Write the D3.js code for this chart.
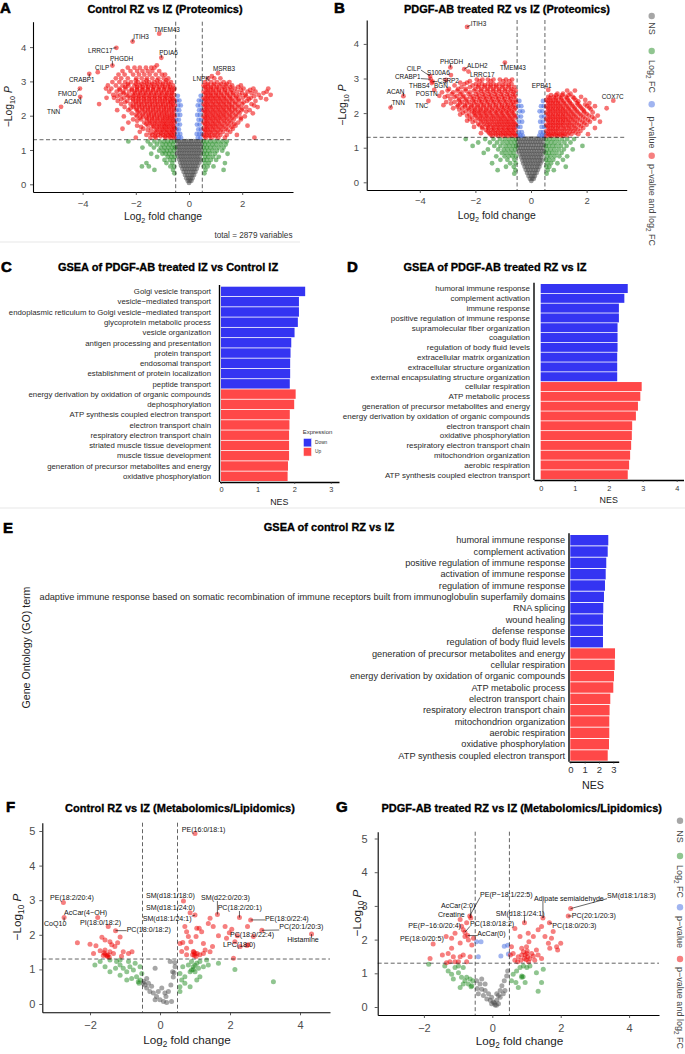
<!DOCTYPE html>
<html>
<head>
<meta charset="utf-8">
<script src="https://cdn.jsdelivr.net/npm/d3@7"></script>
<style>
  body { margin: 0; background: #fff; }
  svg { display: block; font-family: "Liberation Sans", Arial, Helvetica, sans-serif; }
  .letter { font-weight: bold; font-size: 15px; fill: #000; stroke: #000; stroke-width: 0.6px; }
  .ptitle { font-weight: bold; font-size: 11px; fill: #000; stroke: #000; stroke-width: 0.3px; }
  .vol .domain { stroke: #000; stroke-width: 1.1px; }
  .vol .tick line { stroke: #333; stroke-width: 0.8px; }
  .vol .tick text { fill: #4d4d4d; }
  .gs .domain { stroke: #000; stroke-width: 1.4px; }
  .gs .tick line { stroke: #333; stroke-width: 0.7px; }
  .gs .tick text { fill: #333; }
  .vlab { fill: #111; }
</style>
</head>
<body>
<svg id="fig" width="685" height="1054"></svg>
<script>
// ---------- data ----------
// volcano clouds A/B: each row = [-log10 P, log2 FC values...]
const aNS = [
  [1.26, -0.46, -0.37, -0.28, -0.19, -0.1, -0.01, 0.08, 0.17, 0.26, 0.35, 0.44],
  [1.17, -0.42, -0.33, -0.24, -0.15, -0.06, 0.03, 0.12, 0.21, 0.3, 0.39, 0.48],
  [1.08, -0.47, -0.38, -0.29, -0.2, -0.11, -0.02, 0.07, 0.16, 0.25, 0.34, 0.43],
  [0.99, -0.43, -0.34, -0.25, -0.16, -0.07, 0.02, 0.11, 0.2, 0.29, 0.38, 0.47],
  [0.9, -0.45, -0.36, -0.27, -0.18, -0.09, 0, 0.09, 0.18, 0.27, 0.36, 0.45],
  [0.81, -0.41, -0.32, -0.23, -0.14, -0.05, 0.04, 0.13, 0.22, 0.31, 0.4],
  [0.72, -0.37, -0.28, -0.19, -0.1, -0.01, 0.08, 0.17, 0.26, 0.35, 0.44],
  [0.63, -0.33, -0.24, -0.15, -0.06, 0.03, 0.12, 0.21, 0.3, 0.39],
  [0.54, -0.3, -0.21, -0.12, -0.03, 0.06, 0.15, 0.24, 0.33],
  [0.45, -0.25, -0.16, -0.07, 0.02, 0.11, 0.2, 0.29],
  [0.36, -0.2, -0.11, -0.02, 0.07, 0.16, 0.24],
  [0.27, -0.15, -0.06, 0.03, 0.12, 0.19],
  [0.18, -0.1, -0.02, 0.06, 0.13],
  [0.1, -0.05, 0.03, 0.09],
  [0.04, 0]
];
const aFC = [
  [1.25, -2.28, -1.55, -1.3, -1.1, -0.94, -0.8, -0.67, -0.55, 0.54, 0.66, 0.8, 0.95, 1.1, 1.26, 1.42],
  [1.16, -1.45, -1.2, -1.0, -0.86, -0.73, -0.6, 0.6, 0.73, 0.88, 1.03, 1.2, 1.38],
  [1.07, -1.75, -1.32, -1.06, -0.92, -0.78, -0.64, -0.53, 0.55, 0.67, 0.8, 0.95, 1.12, 1.3],
  [0.98, -1.12, -0.96, -0.83, -0.7, -0.57, 0.6, 0.73, 0.88, 1.05, 1.25],
  [0.89, -1.42, -1.0, -0.88, -0.75, -0.62, 0.55, 0.67, 0.8, 0.98, 1.45],
  [0.8, -1.2, -0.8, -0.66, -0.54, 0.6, 0.73, 0.9, 1.12],
  [0.71, -0.92, -0.72, -0.58, 0.55, 0.67, 0.82, 1.02],
  [0.62, -1.6, -0.85, -0.63, 0.6, 0.75, 1.35],
  [0.52, -1.77, -1.51, -0.7, -0.56, 0.56, 0.7, 0.92],
  [0.42, -1.3, -0.6, 0.62, 1.3],
  [0.32, -0.55, 0.58]
];
const aP = [
  [2.58, -0.42, 0.44], [2.44, -0.46, -0.36, 0.37, 0.47], [2.3, -0.41, -0.31, 0.33, 0.43],
  [2.16, -0.47, -0.37, 0.38, 0.48], [2.02, -0.43, -0.33, 0.31, 0.41], [1.88, -0.48, -0.38, 0.36, 0.46],
  [1.74, -0.44, -0.34, 0.3, 0.4], [1.6, -0.47, -0.38, 0.35, 0.45], [1.47, -0.43, -0.33, 0.29, 0.39, 0.48],
  [1.36, -0.47, -0.38, -0.3, 0.33, 0.43]
];
const aPFC = [
  [3.47, -1.21],
  [3.4, -2.3, -2.05, -1.85, -1.62, -1.42, -1.3],
  [3.3, -2.5, -2.2, -1.95, -1.75, -1.55, -1.38, -1.12],
  [3.2, -2.65, -2.42, -2.1, -1.88, -1.68, -1.48, -1.25, -1.02, -0.9],
  [3.09, -2.75, -2.55, -2.3, -1.98, -1.78, -1.58, -1.38, -1.15, -0.95, -0.78, 0.72, 0.95, 1.18],
  [3.03, -2.0, -1.6, -1.2, -0.85],
  [2.98, -2.88, -2.62, -2.4, -2.18, -1.92, -1.7, -1.5, -1.3, -1.08, -0.88, -0.68, 0.6, 0.83, 1.05, 1.3, 1.52],
  [2.93, -2.3, -2.0, -1.78, -1.58, -1.38, -1.18, -0.98, -0.76, 0.7, 0.95, 1.2, 1.42],
  [2.88, -3.05, -2.75, -2.5, -2.28, -2.05, -1.85, -1.63, -1.42, -1.22, -1.0, -0.8, -0.6, 0.55, 0.72, 0.92, 1.14, 1.38, 1.62, 1.95],
  [2.84, -2.4, -1.95, -1.74, -1.53, -1.32, -1.1, -0.9, -0.7, 0.6, 0.82, 1.05, 1.3, 1.55, 1.85],
  [2.79, -3.12, -2.92, -2.62, -2.38, -2.15, -1.95, -1.75, -1.55, -1.35, -1.14, -0.93, -0.72, -0.55, 0.64, 0.82, 1.02, 1.24, 1.46, 1.72, 2.05, 2.42, 2.98],
  [2.75, -2.6, -2.15, -1.95, -1.75, -1.55, -1.35, -1.15, -0.95, -0.75, -0.57, 0.7, 0.9, 1.12, 1.35, 1.6, 1.95, 2.3],
  [2.7, -3.0, -2.72, -2.48, -2.25, -2.05, -1.85, -1.65, -1.45, -1.25, -1.05, -0.85, -0.65, 0.55, 0.73, 0.92, 1.12, 1.34, 1.56, 1.8, 2.2, 2.5, 2.92],
  [2.66, -2.45, -2.02, -1.82, -1.62, -1.42, -1.22, -1.02, -0.82, -0.64, 0.62, 0.8, 1.0, 1.2, 1.42, 1.66, 2.0, 2.35, 2.8],
  [2.61, -2.85, -2.58, -2.35, -2.12, -1.92, -1.72, -1.52, -1.32, -1.12, -0.92, -0.74, -0.56, 0.63, 0.82, 1.02, 1.22, 1.44, 1.66, 1.9, 2.12, 2.62, 3.07],
  [2.57, -2.7, -2.28, -2.08, -1.88, -1.68, -1.48, -1.28, -1.08, -0.88, -0.68, 0.7, 0.88, 1.08, 1.3, 1.52, 1.78, 2.15, 2.45],
  [2.52, -3.1, -2.82, -2.45, -2.22, -2.0, -1.8, -1.6, -1.4, -1.2, -1.0, -0.82, -0.63, 0.55, 0.72, 0.92, 1.12, 1.32, 1.54, 1.76, 2.02, 2.32, 2.7],
  [2.48, -2.55, -2.1, -1.9, -1.7, -1.5, -1.3, -1.1, -0.9, -0.72, -0.58, 0.6, 0.78, 0.97, 1.17, 1.38, 1.6, 1.86, 2.25, 2.9],
  [2.43, -2.68, -2.32, -2.1, -1.9, -1.68, -1.48, -1.28, -1.08, -0.9, -0.7, -0.54, 0.63, 0.82, 1.02, 1.22, 1.42, 1.64, 1.88, 2.18, 2.5],
  [2.39, -2.4, -2.0, -1.8, -1.6, -1.4, -1.2, -1.0, -0.8, -0.66, 0.68, 0.88, 1.08, 1.28, 1.5, 1.74, 2.05],
  [2.34, -3.38, -2.55, -2.2, -1.98, -1.78, -1.57, -1.37, -1.17, -0.97, -0.78, -0.6, 0.55, 0.72, 0.92, 1.12, 1.32, 1.52, 1.74, 2.0, 2.35],
  [2.3, -2.1, -1.88, -1.68, -1.47, -1.27, -1.07, -0.88, -0.68, -0.53, 0.6, 0.78, 0.97, 1.17, 1.38, 1.6, 1.86, 2.45],
  [2.25, -2.42, -2.08, -1.86, -1.65, -1.45, -1.25, -1.05, -0.86, -0.67, 0.63, 0.82, 1.02, 1.22, 1.42, 1.62, 1.86, 2.15, 2.58],
  [2.21, -2.2, -1.98, -1.76, -1.55, -1.35, -1.15, -0.95, -0.76, -0.58, 0.68, 0.88, 1.08, 1.28, 1.5, 1.72, 2.0],
  [2.16, -2.7, -2.28, -1.96, -1.75, -1.54, -1.34, -1.14, -0.94, -0.75, -0.56, 0.55, 0.72, 0.92, 1.12, 1.32, 1.52, 1.74, 1.98, 2.28],
  [2.12, -1.9, -1.66, -1.45, -1.25, -1.05, -0.86, -0.66, 0.6, 0.78, 0.97, 1.17, 1.37, 1.6, 1.85, 2.15],
  [2.07, -2.15, -1.85, -1.62, -1.42, -1.22, -1.02, -0.83, -0.63, 0.63, 0.82, 1.02, 1.22, 1.42, 1.64, 1.9, 2.4],
  [2.03, -2.0, -1.75, -1.52, -1.32, -1.12, -0.93, -0.74, -0.56, 0.68, 0.88, 1.08, 1.28, 1.5, 1.75],
  [1.98, -2.45, -1.95, -1.72, -1.5, -1.3, -1.1, -0.9, -0.72, -0.55, 0.55, 0.72, 0.92, 1.12, 1.32, 1.54, 1.78, 2.1],
  [1.94, -1.85, -1.6, -1.4, -1.2, -1.0, -0.82, -0.65, 0.6, 0.78, 0.97, 1.17, 1.38, 1.62, 1.95],
  [1.89, -2.1, -1.8, -1.58, -1.38, -1.18, -0.98, -0.8, -0.62, 0.63, 0.82, 1.02, 1.22, 1.44, 1.68, 1.95],
  [1.85, -1.95, -1.5, -1.3, -1.1, -0.92, -0.74, -0.58, 0.68, 0.88, 1.08, 1.3, 1.52],
  [1.8, -2.28, -1.68, -1.46, -1.26, -1.06, -0.88, -0.7, -0.54, 0.55, 0.72, 0.92, 1.12, 1.34, 1.58, 1.85],
  [1.76, -1.6, -1.4, -1.2, -1.0, -0.84, -0.66, 0.6, 0.78, 0.97, 1.18, 1.42, 1.7],
  [1.71, -1.95, -1.55, -1.34, -1.14, -0.95, -0.78, -0.6, 0.63, 0.82, 1.02, 1.24, 1.48, 1.75, 2.2],
  [1.67, -1.8, -1.3, -1.1, -0.92, -0.75, -0.58, 0.68, 0.88, 1.08, 1.3, 1.6],
  [1.62, -2.5, -1.72, -1.42, -1.22, -1.02, -0.85, -0.67, -0.53, 0.55, 0.72, 0.92, 1.14, 1.38, 1.65],
  [1.58, -1.55, -1.18, -0.99, -0.82, -0.64, 0.6, 0.78, 0.98, 1.2, 1.45],
  [1.53, -1.85, -1.3, -1.1, -0.92, -0.74, -0.58, 0.63, 0.82, 1.04, 1.28, 1.55],
  [1.49, -1.45, -1.25, -1.05, -0.86, -0.7, -0.55, 0.68, 0.88, 1.1],
  [1.44, -1.6, -1.38, -1.16, -0.98, -0.8, -0.64, 0.55, 0.74, 0.95, 1.18, 1.42, 1.8],
  [1.4, -1.28, -1.07, -0.9, -0.73, -0.58, 0.6, 0.78, 1.0],
  [1.36, -2.0, -1.45, -1.25, -0.88, -0.7, -0.55, 0.63, 0.85, 1.1, 1.35, 2.46]
];
const aLabels = [
  ["TMEM43", -1.12, 4.39], ["ITIH3", -2.12, 4.16], ["LRRC17", -2.73, 3.98], ["PDIA6", -1.04, 3.69],
  ["PHGDH", -2.88, 3.46], ["CILP", -3.43, 3.27], ["CRABP1", -3.75, 3.22], ["FMOD", -4.1, 2.79],
  ["ACAN", -4.09, 2.55], ["TNN", -4.81, 2.26], ["MSRB3", 1.09, 3.24], ["LNPK", 0.86, 3.15]
];

const bNS = [
  [1.26, -0.44, -0.35, -0.26, -0.17, -0.08, 0.01, 0.1, 0.19, 0.28, 0.37, 0.46],
  [1.17, -0.48, -0.39, -0.3, -0.21, -0.12, -0.03, 0.06, 0.15, 0.24, 0.33, 0.42],
  [1.08, -0.44, -0.35, -0.26, -0.17, -0.08, 0.01, 0.1, 0.19, 0.28, 0.37, 0.46],
  [0.99, -0.47, -0.38, -0.29, -0.2, -0.11, -0.02, 0.07, 0.16, 0.25, 0.34, 0.43],
  [0.9, -0.43, -0.34, -0.25, -0.16, -0.07, 0.02, 0.11, 0.2, 0.29, 0.38, 0.47],
  [0.81, -0.39, -0.3, -0.21, -0.12, -0.03, 0.06, 0.15, 0.24, 0.33, 0.42],
  [0.72, -0.35, -0.26, -0.17, -0.08, 0.01, 0.1, 0.19, 0.28, 0.37],
  [0.63, -0.31, -0.22, -0.13, -0.04, 0.05, 0.14, 0.23, 0.32, 0.4],
  [0.54, -0.28, -0.19, -0.1, -0.01, 0.08, 0.17, 0.26, 0.34],
  [0.45, -0.23, -0.14, -0.05, 0.04, 0.13, 0.22, 0.3],
  [0.36, -0.19, -0.1, -0.01, 0.08, 0.17, 0.25],
  [0.27, -0.14, -0.05, 0.04, 0.13, 0.2],
  [0.18, -0.09, 0, 0.08, 0.14],
  [0.1, -0.04, 0.04, 0.1],
  [0.04, 0.01]
];
const bFC = [
  [1.25, -2.35, -1.65, -1.35, -1.12, -0.95, -0.8, -0.66, -0.54, 0.54, 0.66, 0.8, 0.95, 1.12, 1.3, 1.55],
  [1.15, -1.9, -1.48, -1.22, -1.02, -0.86, -0.72, -0.58, 0.58, 0.72, 0.86, 1.02, 1.2, 1.42],
  [1.05, -2.1, -1.32, -1.1, -0.92, -0.78, -0.64, -0.53, 0.53, 0.64, 0.78, 0.92, 1.08, 1.28, 1.85],
  [0.95, -1.55, -1.18, -0.98, -0.84, -0.7, -0.57, 0.57, 0.7, 0.84, 1.0, 1.18, 1.5],
  [0.85, -1.7, -1.05, -0.9, -0.75, -0.62, 0.53, 0.64, 0.77, 0.92, 1.1],
  [0.75, -1.25, -0.95, -0.8, -0.66, -0.54, 0.58, 0.7, 0.85, 1.02, 1.3],
  [0.65, -1.1, -0.85, -0.6, 0.54, 0.65, 0.8, 1.15],
  [0.55, -1.4, -0.75, -0.55, 0.58, 0.72, 0.95],
  [0.45, -0.9, -0.62, 0.55, 0.66, 1.25],
  [0.35, -1.2, -0.56, 0.6, 0.82],
  [0.25, -0.6, 0.56]
];
const bP = [
  [2.35, -0.42, 0.43], [2.2, -0.46, -0.35, 0.36, 0.46], [2.05, -0.4, -0.3, 0.31, 0.41],
  [1.9, -0.47, -0.36, 0.37, 0.47], [1.75, -0.43, -0.32, 0.33, 0.43], [1.6, -0.48, -0.38, 0.38, 0.48],
  [1.45, -0.44, -0.33, 0.34, 0.44], [1.35, -0.47, -0.38, -0.3, 0.3, 0.4, 0.48]
];
const bPFC = [
  [2.97, -1.95, -1.75, -1.55, -1.35, -1.12, -0.9, -0.68],
  [2.92, -2.2, -1.85, -1.45, -1.0, -0.78],
  [2.88, -2.55, -2.3],
  [2.84, -2.4, -1.98, -1.76, -1.55, -1.35, -1.14, -0.91, -0.7],
  [2.8, -2.75, -2.1, -1.88, -1.66, -1.45, -1.25, -1.02, -0.8],
  [2.75, -2.5, -2.2, -1.9, -1.67, -1.46, -1.25, -1.03, -0.81, -0.6],
  [2.7, -2.95, -2.62, -2.35, -2.0, -1.78, -1.56, -1.35, -1.14, -0.92, -0.7],
  [2.65, -3.0, -2.65, -2.35, -2.05, -1.8, -1.57, -1.36, -1.15, -0.94, -0.73, -0.55, 1.3, 1.58],
  [2.6, -3.2, -2.8, -2.5, -2.2, -1.9, -1.68, -1.46, -1.25, -1.04, -0.83, -0.62],
  [2.56, 0.95, 1.15, 1.42],
  [2.55, -2.85, -2.55, -2.25, -1.98, -1.75, -1.53, -1.31, -1.09, -0.87, -0.66],
  [2.52, 0.72, 0.9, 1.12, 1.35],
  [2.5, -3.3, -3.0, -2.68, -2.42, -2.1, -1.86, -1.64, -1.42, -1.2, -0.98, -0.76, -0.56],
  [2.47, 0.62, 0.82, 1.02, 1.25, 1.5, 1.8],
  [2.46, -3.1, -2.75, -2.45, -2.18, -1.94, -1.71, -1.49, -1.27, -1.05, -0.83, -0.62],
  [2.43, 0.68, 0.88, 1.08, 1.3, 1.55],
  [2.41, -2.9, -2.58, -2.32, -2.05, -1.82, -1.6, -1.38, -1.16, -0.94, -0.72],
  [2.38, 0.55, 0.72, 0.9, 1.1, 1.32, 1.6, 1.95],
  [2.37, -2.6, -2.35, -2.1, -1.87, -1.65, -1.43, -1.21, -0.99, -0.77, -0.56],
  [2.34, 0.6, 0.78, 0.96, 1.16, 1.38, 1.7],
  [2.32, -3.05, -2.75, -2.48, -2.22, -1.98, -1.76, -1.54, -1.32, -1.1, -0.88, -0.66, -0.54],
  [2.29, 0.63, 0.8, 0.98, 1.18, 1.4, 1.65, 2.1],
  [2.28, -2.88, -2.55, -2.3, -2.05, -1.81, -1.59, -1.37, -1.15, -0.93, -0.72],
  [2.25, 0.68, 0.86, 1.04, 1.24, 1.46, 1.7, 1.95],
  [2.23, -2.62, -2.38, -2.14, -1.92, -1.7, -1.48, -1.26, -1.04, -0.82, -0.62, -3.15],
  [2.2, 0.55, 0.72, 0.9, 1.08, 1.28, 1.5, 1.75, 2.02, 2.3],
  [2.19, -2.65, -2.38, -2.15, -1.92, -1.71, -1.49, -1.27, -1.05, -0.86, -0.66],
  [2.16, 0.6, 0.78, 0.96, 1.14, 1.34, 1.56, 1.8, 2.1],
  [2.14, -2.8, -2.48, -2.26, -2.04, -1.82, -1.6, -1.38, -1.16, -0.96, -0.76, -0.56, 2.72],
  [2.11, 0.63, 0.8, 0.98, 1.16, 1.36, 1.58, 1.85, 2.15],
  [2.1, -2.58, -2.22, -2.01, -1.81, -1.61, -1.41, -1.2, -1.0, -0.8, -0.6],
  [2.07, 0.68, 0.86, 1.04, 1.22, 1.42, 1.64, 1.9],
  [2.05, -2.35, -2.12, -1.92, -1.72, -1.52, -1.3, -1.1, -0.9, -0.7],
  [2.02, 0.55, 0.72, 0.9, 1.08, 1.26, 1.46, 1.68, 1.92, 2.22],
  [2.01, -2.45, -2.05, -1.87, -1.67, -1.47, -1.26, -1.06, -0.86, -0.67],
  [1.98, 0.6, 0.78, 0.96, 1.14, 1.32, 1.52, 1.75, 2.0],
  [1.96, -2.55, -2.22, -2.02, -1.82, -1.62, -1.42, -1.22, -1.02, -0.82, -0.62],
  [1.93, 0.63, 0.8, 0.98, 1.16, 1.36, 1.56, 1.8, 2.08, 2.4],
  [1.92, -2.3, -1.98, -1.78, -1.58, -1.37, -1.17, -0.98, -0.78, -0.59],
  [1.89, 0.68, 0.86, 1.04, 1.22, 1.42, 1.62, 1.88, 2.2],
  [1.87, -2.12, -1.92, -1.72, -1.52, -1.32, -1.12, -0.94, -0.74, -0.56],
  [1.84, 0.55, 0.72, 0.9, 1.08, 1.26, 1.46, 1.68, 1.95, 2.28],
  [1.83, -2.2, -1.85, -1.65, -1.45, -1.26, -1.07, -0.88, -0.7],
  [1.8, 0.6, 0.78, 0.96, 1.14, 1.32, 1.52, 1.76, 2.05],
  [1.78, -2.3, -2.0, -1.8, -1.6, -1.4, -1.2, -1.02, -0.84, -0.66],
  [1.75, 0.63, 0.8, 0.98, 1.16, 1.36, 1.58, 1.85, 2.12, 2.48],
  [1.74, -2.1, -1.74, -1.54, -1.34, -1.15, -0.97, -0.8, -0.62],
  [1.71, 0.68, 0.86, 1.04, 1.22, 1.42, 1.65, 1.92],
  [1.69, -1.9, -1.68, -1.48, -1.28, -1.1, -0.92, -0.74, -0.57],
  [1.66, 0.55, 0.72, 0.9, 1.08, 1.28, 1.48, 1.72, 2.0],
  [1.65, -1.85, -1.6, -1.42, -1.23, -1.05, -0.87, -0.7, -0.54],
  [1.62, 0.6, 0.78, 0.96, 1.14, 1.34, 1.55, 1.8],
  [1.6, -2.05, -1.75, -1.55, -1.36, -1.18, -1.0, -0.82, -0.65],
  [1.57, 0.63, 0.8, 0.98, 1.18, 1.38, 1.6, 1.88, 2.3],
  [1.56, -1.75, -1.52, -1.33, -1.14, -0.96, -0.79, -0.62],
  [1.53, 0.68, 0.86, 1.04, 1.24, 1.45, 1.68],
  [1.51, -1.62, -1.42, -1.24, -1.06, -0.88, -0.72, -0.56],
  [1.48, 0.55, 0.72, 0.9, 1.1, 1.3, 1.52, 1.78],
  [1.47, -1.55, -1.37, -1.19, -1.01, -0.84, -0.67],
  [1.44, 0.6, 0.78, 0.96, 1.16, 1.38, 1.6],
  [1.42, -1.8, -1.5, -1.3, -1.12, -0.95, -0.78, -0.62],
  [1.39, 0.63, 0.82, 1.02, 1.22, 1.45, 1.7, 2.05],
  [1.38, -1.45, -1.26, -1.08, -0.91, -0.74, -0.58],
  [1.36, 0.68, 0.88, 1.08, 1.3],
  [1.34, -1.38, -1.18, -1.0, -0.84, -0.68, -0.54, 0.55, 0.74, 0.95, 1.15]
];
const bLabels = [
  ["ITIH3", -2.30, 4.49], ["PHGDH", -2.90, 3.32], ["ALDH2", -2.40, 3.27], ["LRRC17", -2.25, 3.20],
  ["TMEM43", -0.94, 3.46], ["CILP", -3.63, 3.07], ["S100A6", -2.88, 3.1], ["CRABP1", -3.61, 2.98],
  ["CSRP2", -3.54, 2.91], ["THBS4", -3.57, 2.87], ["BGN", -3.06, 2.96], ["POSTN", -3.48, 2.67],
  ["ACAN", -4.59, 2.49], ["TNN", -5.05, 2.16], ["TNC", -3.69, 2.35], ["EPB41", 0.62, 2.67],
  ["COX7C", 2.96, 2.36]
];

// metabolomics panels: [log2 FC, -log10 P]
const fNS = [[-0.43,0.55],[-0.33,0.6],[-0.38,0.46],[-0.24,0.51],[-0.19,0.32],[-0.1,0.22],[0,0.12],[0.1,0.07],
  [0.17,0.22],[0.24,0.36],[0.31,0.55],[0.38,0.78],[0.36,0.93],[0.43,1.08],[0.29,1.23],[-0.14,1.03],[-0.29,0.36],
  [-0.05,0.36],[-0.14,0.12],[0.19,0.04],[0.33,0.07],[-0.38,0.74],[-0.48,0.6],[0.05,0.46],[0.14,0.32],[0.42,1.2],
  [0.4,0.9],[-0.46,0.65]];
const fFC = [[-1.86,1.13],[-1.71,1.23],[-1.43,1.27],[-1.24,1.23],[-1.14,1.13],[-1.05,1.03],[-0.95,0.93],[-0.86,1.08],
  [-0.76,0.98],[-0.67,0.79],[-0.62,0.64],[-0.57,0.69],[-0.81,0.74],[-0.95,0.69],[-1.14,0.83],[-1.27,1.03],[-1.43,0.93],
  [-1.57,1.08],[-0.9,1.23],[-0.71,1.18],[-1.14,1.27],[-0.52,0.88],[-0.57,1.08],[-0.6,0.6],
  [0.57,0.88],[0.62,0.69],[0.57,0.5],[0.57,0.36],[0.71,0.79],[0.86,0.93],[0.95,1.08],[1.05,1.18],[1.14,1.23],[1.1,1.03],
  [0.9,1.23],[0.81,1.13],[1.0,0.93],[1.24,1.08],[1.33,1.27],[1.38,1.13],[1.67,1.18],[2.14,1.0],[3.24,0.64],[0.71,0.6],
  [1.05,0.69],[1.14,0.79],[0.86,0.5],[0.65,1.08],[0.95,1.0],[1.0,1.12],[0.9,0.98]];
const fPFC = [[-2.36,1.77],[-2.0,1.73],[-1.83,1.68],[-1.66,1.93],[-1.57,1.85],[-1.43,1.8],[-1.29,1.66],[-1.21,1.77],
  [-1.14,1.94],[-1.71,1.54],[-1.6,1.48],[-1.57,1.44],[-1.48,1.42],[-1.57,1.56],[-1.43,1.51],[-1.33,1.46],[-1.5,1.37],
  [-1.05,1.51],[-0.9,1.46],[-0.8,1.51],[-1.9,1.46],[-1.38,1.71],[-1.52,1.4],[-1.45,1.35],[-1.62,1.4],[-1.1,1.38],
  [0.71,2.24],[0.76,2.09],[0.81,1.95],[0.57,1.75],[0.65,1.78],[0.88,1.8],[0.76,1.61],[1.05,2.19],[1.12,2.19],[1.03,1.95],
  [1.24,1.75],[1.38,2.33],[1.43,2.48],[1.52,2.24],[1.19,2.09],[1.67,1.97],[1.86,2.24],[1.9,1.9],[1.98,2.06],[2.05,2.16],
  [2.5,2.24],[2.52,1.71],[2.67,1.95],[2.1,1.32],[0.95,1.52],[1.0,1.46],[1.06,1.46],[0.93,1.42],[1.03,1.37],[1.14,1.42],
  [1.24,1.46],[1.43,1.51],[0.62,1.52],[0.76,1.42],[1.29,1.56],[1.5,1.66],[2.14,1.8],[2.29,1.66],[0.98,1.4],[0.97,1.5]];
const fLabels = [
  ["PE(16:0/18:1)", 1.0, 4.93], ["PE(18:2/20:4)", -2.76, 2.93], ["AcCar(4−OH)", -1.78, 2.5], ["CoQ10", -2.74, 2.5],
  ["PI(18:0/18:2)", -1.48, 2.24], ["PC(18:0/18:2)", -1.27, 2.12], ["SM(d18:1/18:0)", 0.67, 2.98],
  ["SM(d18:1/24:0)", 0.86, 2.64], ["SM(d18:1/24:1)", 1.0, 2.57], ["SM(d22:0/20:3)", 1.64, 2.59],
  ["PC(18:2/20:1)", 2.27, 2.5], ["PE(18:0/22:4)", 2.59, 2.43], ["PC(20:1/20:3)", 2.91, 2.13],
  ["Histamine", 4.33, 2.02], ["PC(18:0/22:4)", 2.21, 1.97], ["LPC(18:0)", 2.48, 1.69]
];

const gNS = [[-0.46,0.78],[-0.36,0.68],[-0.31,0.53],[-0.21,0.49],[-0.11,0.39],[-0.02,0.29],[0.03,0.15],[0.08,0.06],
  [-0.02,0.1],[-0.06,0.2],[0.13,0.2],[0.18,0.34],[0.23,0.49],[0.28,0.63],[0.35,0.78],[0.42,0.92],[0.45,1.07],[0.32,0.39],
  [0.23,0.29],[-0.41,0.39],[-0.26,0.34],[-0.16,0.24],[0.18,0.1],[-0.21,0.68],[-0.31,0.83],[0.37,0.49],[0.13,0.39],
  [0.06,0.12],[0.12,0.05],[-0.44,0.55]];
const gFC = [[-1.86,1.27],[-1.29,1.07],[-1.19,0.97],[-1.09,1.17],[-0.99,1.02],[-0.9,0.88],[-0.8,0.78],[-0.7,0.68],
  [-0.6,0.63],[-0.94,0.58],[-0.85,0.68],[-0.75,0.88],[-0.65,0.83],[-0.99,1.22],[-0.85,1.17],[-0.57,0.78],[-1.14,0.83],
  [-1.39,1.22],[-0.62,0.6],
  [0.61,0.97],[0.71,1.07],[0.81,1.17],[0.86,0.92],[0.86,0.88],[0.91,1.22],[1.01,1.17],[1.1,1.22],[1.29,1.02],[1.49,1.12],
  [1.44,0.73],[1.34,0.47],[0.76,0.58],[0.69,0.73],[0.96,0.73],[0.56,0.78],[0.9,0.9]];
const gP = [[-0.46,1.94],[-0.33,1.94],[-0.41,1.49],[0.25,1.51],[0.35,1.8],[0.45,1.83],[0.47,1.57]];
const gPFC = [[-1.73,1.87],[-1.82,1.44],[-1.46,1.54],[-1.34,1.31],[-1.29,1.59],[-1.19,1.74],[-1.14,1.49],[-0.99,1.34],
  [-0.94,1.49],[-0.85,1.54],[-0.75,1.34],[-0.65,1.49],[-0.6,1.84],[-0.55,2.04],[-0.8,2.09],[-1.09,2.19],[-0.94,1.9],
  [-1.24,1.34],[-1.09,1.34],[-1.19,2.04],[-0.7,1.99],[-0.9,2.4],[-0.75,2.5],
  [0.66,2.33],[0.81,2.09],[1.05,2.19],[1.07,1.94],[1.2,2.09],[1.34,2.29],[1.44,2.39],[1.54,2.09],[1.64,1.89],[1.73,2.04],
  [1.78,2.24],[1.88,1.79],[2.0,1.89],[1.91,1.69],[1.68,1.74],[1.29,1.69],[1.15,1.59],[1.24,1.39],[1.0,1.79],[0.86,1.74],
  [0.61,1.59],[0.66,1.39],[0.76,1.49],[0.91,1.64],[0.96,1.54],[1.04,1.49],[0.94,1.44],[0.84,1.39],[1.06,1.34],[1.01,1.59],
  [1.1,1.44],[0.74,1.34],[1.2,1.51],[1.34,1.54],[1.44,1.44],[0.56,1.79],[0.53,1.54],[0.86,1.54],[0.99,1.4],[1.02,1.66]];
const gLabels = [
  ["SM(d18:1/18:3)", 2.29, 2.92], ["Adipate semialdehyde", 1.48, 2.64], ["PC(20:1/20:3)", 2.22, 2.70],
  ["PC(18:0/20:3)", 1.67, 2.5], ["SM(d18:1/24:1)", 0.94, 2.5], ["AcCar(2:0)", -0.63, 2.64],
  ["PE(P−18:1/22:5)", -0.66, 2.7], ["Creatine", -0.94, 2.6], ["PE(P−16:0/20:4)", -0.85, 2.29],
  ["PC(18:0/18:2)", -0.8, 2.22], ["AcCar(0)", -0.72, 2.12], ["PE(18:0/20:5)", -1.35, 2.09]
];

const volcanoXTicksProt = [-4, -2, 0, 2];
const volcanoYTicksProt = [0, 1, 2, 3, 4];
const volcanoXTicksMet = [-2, 0, 2, 4];
const volcanoYTicksMet = [0, 1, 2, 3, 4, 5];

// GSEA
const cTerms = ["Golgi vesicle transport", "vesicle−mediated transport",
  "endoplasmic reticulum to Golgi vesicle−mediated transport", "glycoprotein metabolic process",
  "vesicle organization", "antigen processing and presentation", "protein transport", "endosomal transport",
  "establishment of protein localization", "peptide transport",
  "energy derivation by oxidation of organic compounds", "dephosphorylation",
  "ATP synthesis coupled electron transport", "electron transport chain", "respiratory electron transport chain",
  "striated muscle tissue development", "muscle tissue development",
  "generation of precursor metabolites and energy", "oxidative phosphorylation"];
const cNES = [2.30, 2.13, 2.13, 2.10, 2.01, 1.92, 1.90, 1.89, 1.89, 1.88, 2.04, 2.00, 1.88, 1.87, 1.86, 1.86, 1.86, 1.83, 1.82];
const cDir = ["Down","Down","Down","Down","Down","Down","Down","Down","Down","Down",
  "Up","Up","Up","Up","Up","Up","Up","Up","Up"];

const dTerms = ["humoral immune response", "complement activation", "immune response",
  "positive regulation of immune response", "supramolecular fiber organization", "coagulation",
  "regulation of body fluid levels", "extracellular matrix organization", "extracellular structure organization",
  "external encapsulating structure organization", "cellular respiration", "ATP metabolic process",
  "generation of precursor metabolites and energy", "energy derivation by oxidation of organic compounds",
  "electron transport chain", "oxidative phosphorylation", "respiratory electron transport chain",
  "mitochondrion organization", "aerobic respiration", "ATP synthesis coupled electron transport"];
const dNES = [2.56, 2.46, 2.30, 2.30, 2.26, 2.26, 2.26, 2.25, 2.25, 2.25, 2.97, 2.93, 2.86, 2.80, 2.69, 2.68, 2.66, 2.63, 2.60, 2.56];
const dDir = ["Down","Down","Down","Down","Down","Down","Down","Down","Down","Down",
  "Up","Up","Up","Up","Up","Up","Up","Up","Up","Up"];

const eTerms = ["humoral immune response", "complement activation", "positive regulation of immune response",
  "activation of immune response", "regulation of immune response",
  "adaptive immune response based on somatic recombination of immune receptors built from immunoglobulin superfamily domains",
  "RNA splicing", "wound healing", "defense response", "regulation of body fluid levels",
  "generation of precursor metabolites and energy", "cellular respiration",
  "energy derivation by oxidation of organic compounds", "ATP metabolic process", "electron transport chain",
  "respiratory electron transport chain", "mitochondrion organization", "aerobic respiration",
  "oxidative phosphorylation", "ATP synthesis coupled electron transport"];
const eNES = [2.65, 2.61, 2.51, 2.47, 2.42, 2.35, 2.30, 2.28, 2.28, 2.28, 3.12, 3.10, 3.05, 3.00, 2.79, 2.74, 2.72, 2.72, 2.70, 2.61];
const eDir = dDir;

const legendKeys = [
  { key: "ns", parts: [{ t: "NS" }] },
  { key: "fc", parts: [{ t: "Log" }, { t: "2", sub: true }, { t: " FC" }] },
  { key: "p", parts: [{ t: "p−value" }] },
  { key: "pfc", parts: [{ t: "p−value and log" }, { t: "2", sub: true }, { t: " FC" }] }
];

// ---------- drawing ----------
const COL = { ns: "#4d4d4d", fc: "#228b22", p: "#4169e1", pfc: "#ee0000" };
const BAR = { Down: "#3434f2", Up: "#ff4848" };
const fmt = d3.format("d");
const svg = d3.select("#fig");
svg.append("rect").attr("width", 685).attr("height", 1054).attr("fill", "#fff");

// faint separators between figure rows
svg.append("rect").attr("x", 0).attr("y", 241).attr("width", 300).attr("height", 2).attr("fill", "#f3f3f3");
svg.append("rect").attr("x", 0).attr("y", 507).attr("width", 685).attr("height", 2).attr("fill", "#f3f3f3");

function rowsToPoints(rows) {
  return rows.flatMap(([yv, ...xs]) => xs.map((xv) => [xv, yv]));
}

function rich(text, parts, fs) {
  let shifted = false;
  parts.forEach((p) => {
    const ts = text.append("tspan").text(p.t);
    if (p.sub) {
      ts.attr("font-size", fs * 0.7).attr("dy", fs * 0.28);
      shifted = true;
    } else if (shifted) {
      ts.attr("dy", -fs * 0.28);
      shifted = false;
    }
    if (p.it) ts.attr("font-style", "italic");
  });
}

const xTitleParts = [{ t: "Log" }, { t: "2", sub: true }, { t: " fold change" }];
const yTitleParts = [{ t: "−Log" }, { t: "10", sub: true }, { t: " " }, { t: "P", it: true }];

function volcano(cfg) {
  const g = svg.append("g").attr("class", "vol");
  const x = d3.scaleLinear().domain(cfg.xDomain).range([cfg.left, cfg.right]);
  const y = d3.scaleLinear().domain(cfg.yDomain).range([cfg.bottom, cfg.top]);

  const layers = [[cfg.ns, COL.ns], [cfg.fc, COL.fc], [cfg.p, COL.p], [cfg.pfc, COL.pfc],
    [cfg.labels.map((d) => [d[1], d[2]]), COL.pfc]];
  layers.forEach(([pts, col]) => {
    g.append("g").selectAll("circle").data(pts).join("circle")
      .attr("cx", (d) => x(d[0])).attr("cy", (d) => y(d[1]))
      .attr("r", cfg.r).attr("fill", col).attr("fill-opacity", cfg.alpha);
  });

  // cut-off lines
  const cut = g.append("g").attr("stroke", "#222").attr("stroke-width", 0.7).attr("stroke-dasharray", "4,2.5");
  [-0.5, 0.5].forEach((v) => cut.append("line")
    .attr("x1", x(v)).attr("x2", x(v)).attr("y1", cfg.top).attr("y2", cfg.bottom));
  cut.append("line").attr("x1", cfg.left).attr("x2", cfg.right).attr("y1", y(1.3)).attr("y2", y(1.3));

  g.append("g").attr("transform", `translate(0,${cfg.bottom})`)
    .call(d3.axisBottom(x).tickValues(cfg.xTicks).tickFormat(fmt).tickSize(3).tickSizeOuter(0).tickPadding(cfg.xPad))
    .call((a) => a.selectAll("text").style("font-size", cfg.tickFs + "px"));
  g.append("g").attr("transform", `translate(${cfg.left},0)`)
    .call(d3.axisLeft(y).tickValues(cfg.yTicks).tickFormat(fmt).tickSize(3).tickSizeOuter(0).tickPadding(cfg.yPad))
    .call((a) => a.selectAll("text").style("font-size", cfg.tickFs + "px"));

  const xt = g.append("text").attr("x", cfg.xTitle[0]).attr("y", cfg.xTitle[1]).attr("dy", "0.35em")
    .attr("text-anchor", "middle").attr("font-size", cfg.titleFs).attr("fill", "#222");
  rich(xt, xTitleParts, cfg.titleFs);
  const yt = g.append("text").attr("transform", `translate(${cfg.yTitle[0]},${cfg.yTitle[1]}) rotate(-90)`)
    .attr("dy", "0.35em").attr("text-anchor", "middle").attr("font-size", cfg.titleFs).attr("fill", "#222");
  rich(yt, yTitleParts, cfg.titleFs);

  // point labels with connectors
  const lg = g.append("g");
  cfg.labels.forEach(([name, vx, vy]) => {
    const px = x(vx), py = y(vy);
    const [dx, dy] = cfg.nudge[name];
    const t = lg.append("text").attr("class", "vlab").attr("x", px + dx).attr("y", py + dy)
      .attr("dy", "0.35em").attr("font-size", cfg.labFs).text(name);
    const b = t.node().getBBox();
    const cx = Math.max(b.x, Math.min(px, b.x + b.width));
    const cy = Math.max(b.y + 1.5, Math.min(py, b.y + b.height - 1.5));
    if (Math.hypot(cx - px, cy - py) > 3) {
      lg.insert("line", "text").attr("x1", px).attr("y1", py).attr("x2", cx).attr("y2", cy)
        .attr("stroke", "#000").attr("stroke-width", 0.6);
    }
  });
}

function gsea(cfg) {
  const g = svg.append("g").attr("class", "gs");
  const x = d3.scaleLinear().domain(cfg.xDomain).range([cfg.axisX, cfg.right]);
  const y = d3.scaleBand().domain(cfg.terms).range([cfg.barTop, cfg.barBottom]).paddingInner(0.08);
  const rows = cfg.terms.map((t, i) => ({ term: t, nes: cfg.nes[i], dir: cfg.dir[i] }));

  g.append("g").selectAll("rect").data(rows).join("rect")
    .attr("x", x(0)).attr("y", (d) => y(d.term))
    .attr("width", (d) => x(d.nes) - x(0)).attr("height", y.bandwidth())
    .attr("fill", (d) => BAR[d.dir]);

  g.append("g").selectAll("text").data(rows).join("text")
    .attr("x", cfg.labelX).attr("y", (d) => y(d.term) + y.bandwidth() / 2).attr("dy", "0.35em")
    .attr("text-anchor", "end").attr("font-size", cfg.labFs).attr("fill", "#2a2a2a")
    .text((d) => d.term);

  g.append("line").attr("x1", cfg.axisX).attr("x2", cfg.axisX).attr("y1", cfg.lineTop).attr("y2", cfg.axisY)
    .attr("stroke", "#000").attr("stroke-width", 1.4);
  g.append("g").attr("transform", `translate(0,${cfg.axisY})`)
    .call(d3.axisBottom(x).tickValues(cfg.ticks).tickFormat(fmt).tickSize(2).tickSizeOuter(0).tickPadding(cfg.tickPad))
    .call((a) => a.selectAll("text").style("font-size", cfg.tickFs + "px"));

  g.append("text").attr("x", cfg.nesPos[0]).attr("y", cfg.nesPos[1]).attr("dy", "0.35em")
    .attr("text-anchor", "middle").attr("font-size", cfg.nesFs).attr("fill", "#222").text("NES");
}

function legend(cx, layout) {
  const g = svg.append("g");
  legendKeys.forEach((k, i) => {
    const [cy, ty] = layout[i];
    g.append("circle").attr("cx", cx).attr("cy", cy).attr("r", 3.2)
      .attr("fill", COL[k.key]).attr("fill-opacity", 0.5);
    const t = g.append("text").attr("transform", `translate(${cx},${ty}) rotate(90)`)
      .attr("dy", "0.35em").attr("text-anchor", "middle").attr("font-size", 9).attr("fill", "#444");
    rich(t, k.parts, 9);
  });
}

function heading(letter, lx, ly, title, tx, ty) {
  svg.append("text").attr("class", "letter").attr("x", lx).attr("y", ly).text(letter);
  svg.append("text").attr("class", "ptitle").attr("x", tx).attr("y", ty).attr("text-anchor", "middle").text(title);
}

// ---- A ----
heading("A", 0, 13, "Control RZ vs IZ (Proteomics)", 165, 12.5);
volcano({
  left: 33, right: 293, top: 21.7, bottom: 192,
  xDomain: [-5.865, 3.91], yDomain: [-0.2245, 4.7405],
  xTicks: volcanoXTicksProt, yTicks: volcanoYTicksProt, xPad: 5, yPad: 3.7, tickFs: 9.5,
  r: 2.4, alpha: 0.55, ns: rowsToPoints(aNS), fc: rowsToPoints(aFC), p: rowsToPoints(aP), pfc: rowsToPoints(aPFC),
  labels: aLabels, labFs: 6.4,
  nudge: {
    TMEM43: [-5.3, -4.4], ITIH3: [0.6, -5.0], LRRC17: [-28.3, 2.6], PDIA6: [-2, -5.0], PHGDH: [-2.3, -6.7],
    CILP: [-2.7, -4.3], CRABP1: [-20.3, 5.6], FMOD: [-22, 5.0], ACAN: [-16.3, 5.3], TNN: [-14, 4.6],
    MSRB3: [-5, -4.3], LNPK: [-19, 3.0]
  },
  titleFs: 10.4, xTitle: [163, 216], yTitle: [8, 106.7]
});
svg.append("text").attr("x", 292.5).attr("y", 237.5).attr("text-anchor", "end")
  .attr("font-size", 8.2).attr("fill", "#333").text("total = 2879 variables");

// ---- B ----
heading("B", 334, 13, "PDGF-AB treated RZ vs IZ (Proteomics)", 507, 12.5);
volcano({
  left: 366.7, right: 626.7, top: 20, bottom: 190,
  xDomain: [-5.91, 3.442], yDomain: [-0.2225, 4.691],
  xTicks: volcanoXTicksProt, yTicks: volcanoYTicksProt, xPad: 4.5, yPad: 4.7, tickFs: 9.5,
  r: 2.4, alpha: 0.55, ns: rowsToPoints(bNS), fc: rowsToPoints(bFC), p: rowsToPoints(bP), pfc: rowsToPoints(bPFC),
  labels: bLabels, labFs: 6.4,
  nudge: {
    ITIH3: [3.6, -3.6], PHGDH: [-10.4, -5.7], ALDH2: [2.7, -3.5], LRRC17: [1.5, 3.1], TMEM43: [-4.9, 5.4],
    CILP: [-23.4, -7.8], S100A6: [-24, -2.7], CRABP1: [-35.7, -2.3], CSRP2: [5, -0.4], THBS4: [-22.7, 3.0],
    BGN: [-12, 6.3], POSTN: [-18.6, 4.3], ACAN: [-16.7, -4.8], TNN: [1.1, -4.9], TNC: [-13.4, 5.0],
    EPB41: [-16.5, -4.6], COX7C: [-11.6, -3.9]
  },
  titleFs: 10.4, xTitle: [496.7, 215], yTitle: [342, 105]
});
legend(651.7, [[16, 28.5], [51, 76.5], [104.3, 132.5], [155.7, 205]]);

// ---- C ----
heading("C", 1, 272, "GSEA of PDGF-AB treated IZ vs Control IZ", 168, 271);
gsea({
  terms: cTerms, nes: cNES, dir: cDir,
  axisX: 219.5, right: 339, xDomain: [-0.04, 3.224], barTop: 286.7, barBottom: 481, axisY: 482, lineTop: 285,
  labelX: 211, labFs: 7.8, ticks: [0, 1, 2, 3], tickFs: 7.4, tickPad: 2.6, nesPos: [279.3, 501.7], nesFs: 8.9
});
// expression legend
const exg = svg.append("g");
exg.append("text").attr("x", 302.7).attr("y", 433.5).attr("font-size", 6).attr("fill", "#333").text("Expression");
["Down", "Up"].forEach((k, i) => {
  exg.append("rect").attr("x", 303.3).attr("y", 438.3 + i * 9.2).attr("width", 8.4).attr("height", 8.6)
    .attr("fill", BAR[k]).attr("stroke", "#fff").attr("stroke-width", 0.6);
  exg.append("text").attr("x", 315).attr("y", 442.6 + i * 9.2).attr("dy", "0.35em")
    .attr("font-size", 4.8).attr("fill", "#333").text(k);
});

// ---- D ----
heading("D", 347, 272, "GSEA of PDGF-AB treated RZ vs IZ", 495, 270.7);
gsea({
  terms: dTerms, nes: dNES, dir: dDir,
  axisX: 534, right: 683.5, xDomain: [-0.197, 4.2], barTop: 284, barBottom: 479.3, axisY: 480, lineTop: 282.7,
  labelX: 530, labFs: 8.0, ticks: [0, 1, 2, 3, 4], tickFs: 7.4, tickPad: 3.6, nesPos: [608.7, 500], nesFs: 8.9
});

// ---- E ----
heading("E", 3, 533, "GSEA of control RZ vs IZ", 329, 530.7);
gsea({
  terms: eTerms, nes: eNES, dir: eDir,
  axisX: 569, right: 618.7, xDomain: [-0.09, 3.377], barTop: 535, barBottom: 760.7, axisY: 761.7, lineTop: 533.3,
  labelX: 565, labFs: 9.2, ticks: [0, 1, 2, 3], tickFs: 9.5, tickPad: 2.6, nesPos: [593, 785], nesFs: 10.7
});
svg.append("text").attr("transform", "translate(26.7,647.5) rotate(-90)").attr("dy", "0.35em")
  .attr("text-anchor", "middle").attr("font-size", 10.6).attr("fill", "#222").text("Gene Ontology (GO) term");

// ---- F ----
heading("F", 6, 812, "Control RZ vs IZ (Metabolomics/Lipidomics)", 180, 812);
volcano({
  left: 42.3, right: 330, top: 822.7, bottom: 1012.3,
  xDomain: [-3.363, 4.857], yDomain: [-0.24, 5.24],
  xTicks: volcanoXTicksMet, yTicks: volcanoYTicksMet, xPad: 5.7, yPad: 4, tickFs: 11,
  r: 2.5, alpha: 0.5, ns: fNS, fc: fFC, p: [], pfc: fPFC,
  labels: fLabels, labFs: 7.1,
  nudge: {
    "PE(16:0/18:1)": [-13.3, -4.4], "PE(18:2/20:4)": [-13.4, -4.9], "AcCar(4−OH)": [-33.7, -4.8],
    "CoQ10": [-20.1, 5.8], "PI(18:0/18:2)": [-28.2, -3.8], "PC(18:0/18:2)": [11.1, -1.3],
    "SM(d18:1/18:0)": [-37.5, -4.9], "SM(d18:1/24:0)": [-44.1, -5.4], "SM(d18:1/24:1)": [-52.3, 3.2],
    "SM(d22:0/20:3)": [-16.4, -16.4], "PC(18:2/20:1)": [-21.8, -9.5], "PE(18:0/22:4)": [14.3, -1.9],
    "PC(20:1/20:3)": [17.4, -3.3], "Histamine": [-24.3, 5.9], "PC(18:0/22:4)": [-7.4, -1.4],
    "LPC(18:0)": [-23.8, -1.2]
  },
  titleFs: 11.7, xTitle: [187, 1040], yTitle: [17, 917]
});

// ---- G ----
heading("G", 336, 812, "PDGF-AB treated RZ vs IZ (Metabolomics/Lipidomics)", 521.7, 812);
volcano({
  left: 377.7, right: 659, top: 831.7, bottom: 1015,
  xDomain: [-3.351, 4.874], yDomain: [-0.237, 5.202],
  xTicks: volcanoXTicksMet, yTicks: volcanoYTicksMet, xPad: 6.3, yPad: 7, tickFs: 11,
  r: 2.5, alpha: 0.5, ns: gNS, fc: gFC, p: gP, pfc: gPFC,
  labels: gLabels, labFs: 7.1,
  nudge: {
    "SM(d18:1/18:3)": [36.4, -12.9], "Adipate semialdehyde": [-8.9, -20], "PC(20:1/20:3)": [3.5, -0.7],
    "PC(18:0/20:3)": [2.9, 2.9], "SM(d18:1/24:1)": [-28.7, -9.5], "AcCar(2:0)": [-29.8, -13],
    "PE(P−18:1/22:5)": [10.3, -21.7], "Creatine": [-22.2, -4.7], "PE(P−16:0/20:4)": [-54.9, -4.1],
    "PC(18:0/18:2)": [5.1, -8.9], "AcCar(0)": [9.6, -2.3], "PE(18:0/20:5)": [-46.1, 2.4]
  },
  titleFs: 11.7, xTitle: [519.5, 1041], yTitle: [357, 913]
});
legend(680, [[820.7, 836.5], [856, 881.5], [907.3, 932], [959, 1008]]);
</script>
</body>
</html>
